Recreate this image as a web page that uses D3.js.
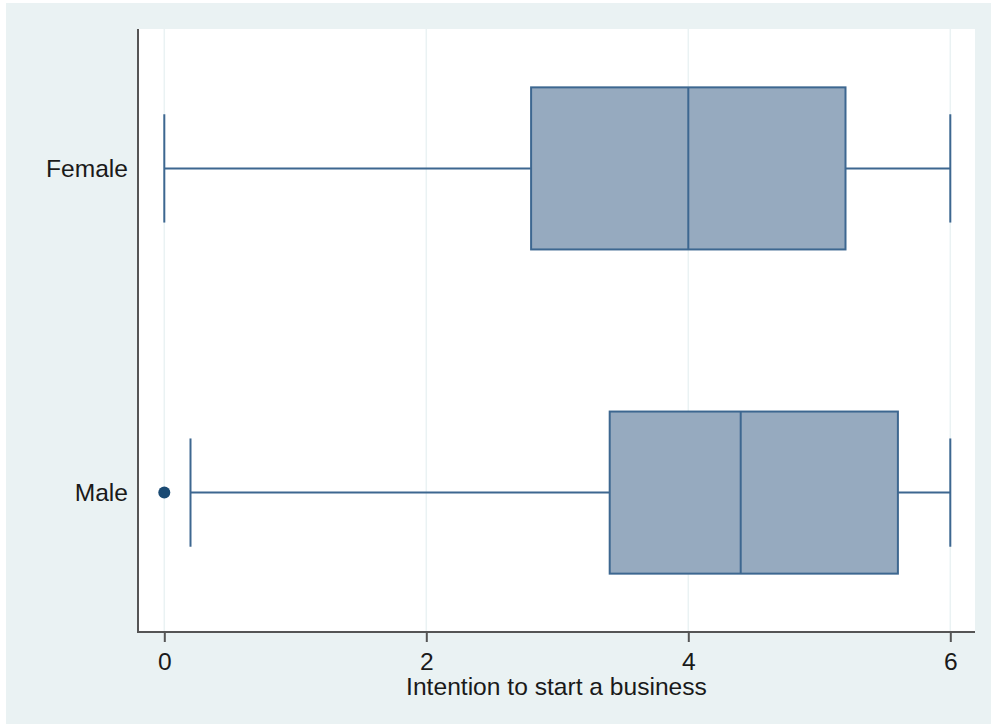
<!DOCTYPE html>
<html>
<head>
<meta charset="utf-8">
<script src="https://cdn.jsdelivr.net/npm/d3@7"></script>
<style>
  html, body { margin: 0; padding: 0; background: #ffffff; }
  svg { display: block; }
  text { font-family: "Liberation Sans", Arial, sans-serif; fill: #1a1a1a; }
</style>
</head>
<body>
<svg id="chart" width="991" height="724"></svg>
<script>
// Box plot summaries of intention to start a business, by gender
const groups = ["Female", "Male"];
const whiskerLow = [0, 0.2];
const q1 = [2.8, 3.4];
const median = [4.0, 4.4];
const q3 = [5.2, 5.6];
const whiskerHigh = [6, 6];
const outliers = [[], [0]];
const xTicks = [0, 2, 4, 6];
const xTitle = "Intention to start a business";

const svg = d3.select("#chart");
const W = 991, H = 724;
const fontSize = 24.6;

// plot region
const plot = { left: 138, right: 975, top: 29, bottom: 632 };

const x = d3.scaleLinear().domain([0, 6]).range([164.3, 950.3]);
const y = d3.scalePoint().domain(groups).range([plot.top, plot.bottom]).padding(0.43);
const step = y.step();
const boxHalf = step * 0.25;
const capHalf = step * 0.167;

const lineCol = "#3d6790";
const fillCol = "#96aabf";

// outer background
svg.append("rect").attr("x", 6).attr("y", 3).attr("width", W - 6).attr("height", H - 3)
  .attr("fill", "#eaf2f3");

// plot background
svg.append("rect").attr("x", plot.left).attr("y", plot.top)
  .attr("width", plot.right - plot.left).attr("height", plot.bottom - plot.top)
  .attr("fill", "#ffffff");

// vertical grid lines
svg.append("g").selectAll("line").data(xTicks).join("line")
  .attr("x1", d => x(d)).attr("x2", d => x(d))
  .attr("y1", plot.top).attr("y2", plot.bottom)
  .attr("stroke", "#eaf2f3").attr("stroke-width", 1.5);

// boxes
const rows = groups.map((g, i) => ({
  g, lo: whiskerLow[i], q1: q1[i], med: median[i], q3: q3[i], hi: whiskerHigh[i], out: outliers[i]
}));

const gBox = svg.append("g").selectAll("g").data(rows).join("g");

// whisker lines
gBox.append("line")
  .attr("x1", d => x(d.lo)).attr("x2", d => x(d.q1))
  .attr("y1", d => y(d.g)).attr("y2", d => y(d.g))
  .attr("stroke", lineCol).attr("stroke-width", 2);
gBox.append("line")
  .attr("x1", d => x(d.q3)).attr("x2", d => x(d.hi))
  .attr("y1", d => y(d.g)).attr("y2", d => y(d.g))
  .attr("stroke", lineCol).attr("stroke-width", 2);

// whisker caps
gBox.append("line")
  .attr("x1", d => x(d.lo)).attr("x2", d => x(d.lo))
  .attr("y1", d => y(d.g) - capHalf).attr("y2", d => y(d.g) + capHalf)
  .attr("stroke", lineCol).attr("stroke-width", 2);
gBox.append("line")
  .attr("x1", d => x(d.hi)).attr("x2", d => x(d.hi))
  .attr("y1", d => y(d.g) - capHalf).attr("y2", d => y(d.g) + capHalf)
  .attr("stroke", lineCol).attr("stroke-width", 2);

// interquartile box
gBox.append("rect")
  .attr("x", d => x(d.q1)).attr("width", d => x(d.q3) - x(d.q1))
  .attr("y", d => y(d.g) - boxHalf).attr("height", boxHalf * 2)
  .attr("fill", fillCol).attr("stroke", lineCol).attr("stroke-width", 2);

// median
gBox.append("line")
  .attr("x1", d => x(d.med)).attr("x2", d => x(d.med))
  .attr("y1", d => y(d.g) - boxHalf).attr("y2", d => y(d.g) + boxHalf)
  .attr("stroke", lineCol).attr("stroke-width", 2);

// outside values
gBox.selectAll("circle").data(d => d.out.map(v => ({ v, g: d.g }))).join("circle")
  .attr("cx", d => x(d.v)).attr("cy", d => y(d.g)).attr("r", 6)
  .attr("fill", "#1a4a73");

// axes lines
svg.append("line").attr("x1", plot.left).attr("x2", plot.left)
  .attr("y1", plot.top).attr("y2", plot.bottom + 1)
  .attr("stroke", "#555").attr("stroke-width", 2);
svg.append("line").attr("x1", plot.left).attr("x2", plot.right)
  .attr("y1", plot.bottom).attr("y2", plot.bottom)
  .attr("stroke", "#555").attr("stroke-width", 2);

// x axis
const xAxis = svg.append("g").attr("transform", `translate(0,${plot.bottom})`)
  .call(d3.axisBottom(x).tickValues(xTicks).tickFormat(d3.format("d"))
    .tickSize(10).tickSizeOuter(0).tickPadding(10.5));
xAxis.select(".domain").remove();
xAxis.selectAll(".tick line").attr("stroke", "#555").attr("stroke-width", 2);
xAxis.selectAll(".tick text").attr("font-size", fontSize)
  .attr("font-family", "'Liberation Sans', Arial, sans-serif").attr("fill", "#1a1a1a");

// y axis
const yAxis = svg.append("g").attr("transform", `translate(${plot.left},0)`)
  .call(d3.axisLeft(y).tickSize(0).tickPadding(10));
yAxis.select(".domain").remove();
yAxis.selectAll(".tick text").attr("font-size", fontSize)
  .attr("font-family", "'Liberation Sans', Arial, sans-serif").attr("fill", "#1a1a1a");

// x axis title
svg.append("text").attr("x", (plot.left + plot.right) / 2).attr("y", 695)
  .attr("text-anchor", "middle").attr("font-size", fontSize).text(xTitle);
</script>
</body>
</html>
